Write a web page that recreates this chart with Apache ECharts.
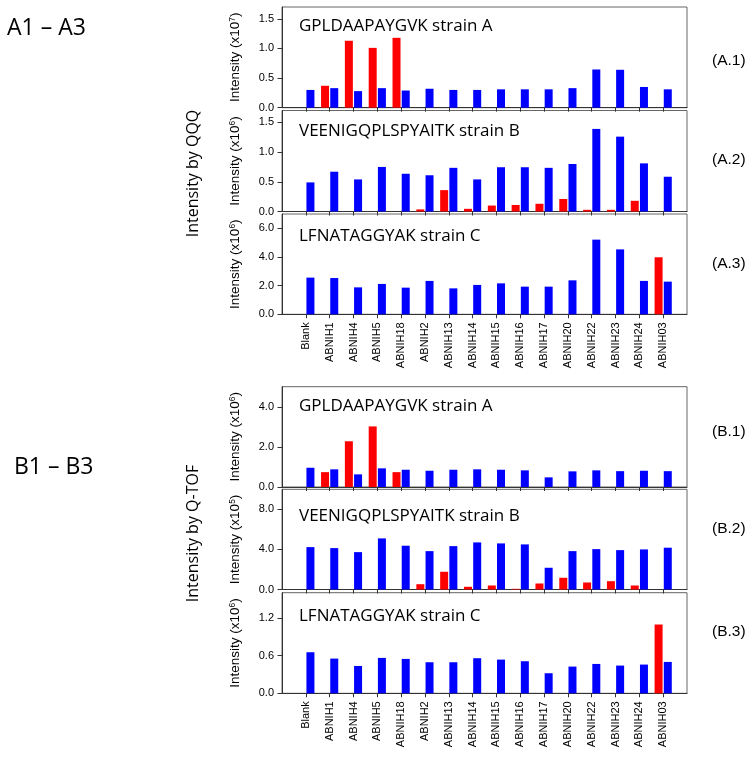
<!DOCTYPE html>
<html>
<head>
<meta charset="utf-8">
<script src="https://cdn.jsdelivr.net/npm/echarts@6/dist/echarts.min.js"></script>
<style>html,body{margin:0;padding:0;background:#fff;}#c{width:754px;height:757px;}</style>
</head>
<body>
<div id="c"></div>
<script>
// ---------- data ----------
const categories = ['Blank','ABNIH1','ABNIH4','ABNIH5','ABNIH18','ABNIH2','ABNIH13','ABNIH14','ABNIH15','ABNIH16','ABNIH17','ABNIH20','ABNIH22','ABNIH23','ABNIH24','ABNIH03'];

// A.1 QQQ GPLDAAPAYGVK (x10^7)
const a1Blue = [0.30,0.33,0.28,0.33,0.29,0.32,0.30,0.30,0.31,0.31,0.31,0.33,0.645,0.64,0.35,0.31];
const a1Red  = [null,0.37,1.13,1.01,1.18,null,null,null,null,null,null,null,null,null,null,null];
// A.2 QQQ VEENIGQPLSPYAITK (x10^6)
const a2Blue = [0.49,0.67,0.54,0.75,0.635,0.61,0.735,0.54,0.745,0.745,0.735,0.80,1.39,1.26,0.81,0.585];
const a2Red  = [null,null,null,null,null,0.035,0.36,0.045,0.10,0.11,0.13,0.21,0.028,0.028,0.18,null];
// A.3 QQQ LFNATAGGYAK (x10^6)
const a3Blue = [2.56,2.53,1.88,2.12,1.86,2.33,1.81,2.05,2.16,1.93,1.93,2.37,5.21,4.53,2.33,2.28];
const a3Red  = [null,null,null,null,null,null,null,null,null,null,null,null,null,null,null,3.98];
// B.1 Q-TOF GPLDAAPAYGVK (x10^6)
const b1Blue = [0.96,0.88,0.63,0.93,0.86,0.81,0.86,0.88,0.86,0.83,0.48,0.78,0.83,0.79,0.81,0.79];
const b1Red  = [null,0.74,2.28,3.02,0.74,null,null,null,null,null,null,null,null,null,null,null];
// B.2 Q-TOF VEENIGQPLSPYAITK (x10^5)
const b2Blue = [4.23,4.13,3.73,5.10,4.37,3.83,4.33,4.70,4.60,4.50,2.17,3.83,4.03,3.93,4.00,4.17];
const b2Red  = [null,null,null,null,null,0.53,1.77,0.27,0.40,0.07,0.60,1.17,0.70,0.83,0.40,null];
// B.3 Q-TOF LFNATAGGYAK (x10^6)
const b3Blue = [0.653,0.552,0.435,0.563,0.547,0.494,0.494,0.558,0.536,0.510,0.319,0.425,0.467,0.441,0.457,0.499];
const b3Red  = [null,null,null,null,null,null,null,null,null,null,null,null,null,null,null,1.094];

const panelTitles = ['GPLDAAPAYGVK strain A','VEENIGQPLSPYAITK strain B','LFNATAGGYAK strain C','GPLDAAPAYGVK strain A','VEENIGQPLSPYAITK strain B','LFNATAGGYAK strain C'];
const panelTags = ['(A.1)','(A.2)','(A.3)','(B.1)','(B.2)','(B.3)'];
const yExponents = [7,6,6,6,5,6];
const yMax = [1.7,1.7,7,5,10,1.6];
const yTickValues = [[0,0.5,1.0,1.5],[0,0.5,1.0,1.5],[0,2,4,6],[0,2,4],[0,4,8],[0,0.6,1.2]];
const groupLabels = ['A1 \u2013 A3','B1 \u2013 B3'];
const groupAxisNames = ['Intensity by QQQ','Intensity by Q-TOF'];

const blueSets = [a1Blue,a2Blue,a3Blue,b1Blue,b2Blue,b3Blue];
const redSets  = [a1Red,a2Red,a3Red,b1Red,b2Red,b3Red];

// ---------- layout ----------
const gridTops = [7, 110.5, 214, 386.7, 489.3, 592.7];
const gridHeights = [100.7, 101, 100.3, 100.3, 100.2, 100.6];
const titleY = [26.5, 131.5, 235.8, 405.8, 515.8, 615.8];
const tagY = [61, 159.7, 263.3, 431.7, 528.3, 631.7];
const showXLabels = [false,false,true,false,false,true];

const xCats = [''].concat(categories, ['']);
const pad = arr => [null].concat(arr, [null]);
const axisFont = 'Liberation Sans, Arial, sans-serif';
const textFont = 'Open Sans, sans-serif';

const grids = [], xAxes = [], yAxes = [], series = [], graphics = [];
for (let i = 0; i < 6; i++) {
  grids.push({left: 282, width: 405, top: gridTops[i], height: gridHeights[i], show: true, borderColor: '#666', borderWidth: 1, containLabel: false});
  xAxes.push({
    type: 'category', gridIndex: i, data: xCats, boundaryGap: false,
    axisLine: {show: true, lineStyle: {color: '#333', width: 1}},
    axisTick: {show: true, length: 4, interval: (idx) => idx > 0 && idx < xCats.length - 1, lineStyle: {color: '#333'}},
    axisLabel: {show: showXLabels[i], interval: 0, rotate: 90, fontSize: 11, color: '#000', fontFamily: axisFont, margin: 8},
    splitLine: {show: false}
  });
  yAxes.push({
    type: 'value', gridIndex: i, min: 0, max: yMax[i],
    name: 'Intensity (x10{s|' + yExponents[i] + '})',
    nameLocation: 'middle', nameGap: 40,
    nameTextStyle: {fontSize: 13.5, color: '#000', fontFamily: axisFont, rich: {s: {fontSize: 8.5, verticalAlign: 'top', color: '#000', fontFamily: axisFont}}},
    axisLine: {show: true, lineStyle: {color: '#333'}},
    axisTick: {show: true, length: 4.5, customValues: yTickValues[i], lineStyle: {color: '#333'}},
    axisLabel: {customValues: yTickValues[i], formatter: v => Number(v).toFixed(1), fontSize: 11, color: '#000', fontFamily: axisFont, margin: 8},
    splitLine: {show: false}
  });
  series.push({type: 'bar', xAxisIndex: i, yAxisIndex: i, data: pad(redSets[i]), barWidth: 8, barGap: '15%', itemStyle: {color: '#ff0000'}, animation: false});
  series.push({type: 'bar', xAxisIndex: i, yAxisIndex: i, data: pad(blueSets[i]), barWidth: 8, barGap: '15%', itemStyle: {color: '#0000ff'}, animation: false});
  graphics.push({type: 'text', x: 299, y: titleY[i], style: {text: panelTitles[i], font: '17px ' + textFont, fill: '#000', textVerticalAlign: 'middle'}});
  graphics.push({type: 'text', x: 712, y: tagY[i], style: {text: panelTags[i], font: '15.5px ' + axisFont, fill: '#000', textVerticalAlign: 'middle'}});
}
graphics.push({type: 'text', x: 7, y: 28, style: {text: groupLabels[0], font: '23px ' + textFont, fill: '#000', textVerticalAlign: 'middle'}});
graphics.push({type: 'text', x: 14, y: 467.5, style: {text: groupLabels[1], font: '23px ' + textFont, fill: '#000', textVerticalAlign: 'middle'}});
graphics.push({type: 'text', x: 193.5, y: 173.5, rotation: Math.PI / 2, style: {text: groupAxisNames[0], font: '16px ' + textFont, fill: '#000', textAlign: 'center', textVerticalAlign: 'middle'}});
graphics.push({type: 'text', x: 193.5, y: 533.5, rotation: Math.PI / 2, style: {text: groupAxisNames[1], font: '16px ' + textFont, fill: '#000', textAlign: 'center', textVerticalAlign: 'middle'}});

const chart = echarts.init(document.getElementById('c'), null, {renderer: 'canvas'});
chart.setOption({
  backgroundColor: '#fff',
  animation: false,
  grid: grids, xAxis: xAxes, yAxis: yAxes, series: series, graphic: graphics
});
</script>
</body>
</html>
